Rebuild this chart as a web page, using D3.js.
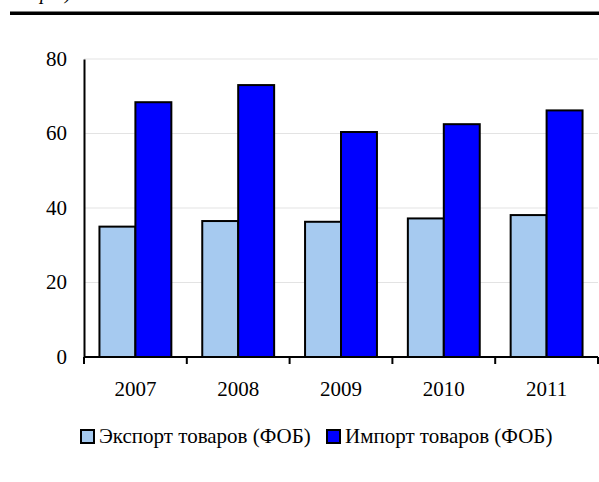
<!DOCTYPE html>
<html>
<head>
<meta charset="utf-8">
<script src="https://cdn.jsdelivr.net/npm/d3@7"></script>
<style>
  body { margin: 0; background: #fff; }
  svg { display: block; font-family: "Liberation Serif", "Times New Roman", serif; }
</style>
</head>
<body>
<svg id="chart" width="599" height="482"></svg>
<script>
// data
var years = ["2007", "2008", "2009", "2010", "2011"];
var exportVals = [35.0, 36.5, 36.3, 37.2, 38.1];
var importVals = [68.4, 73.0, 60.4, 62.5, 66.2];
var seriesNames = ["Экспорт товаров (ФОБ)", "Импорт товаров (ФОБ)"];
var yTicks = [0, 20, 40, 60, 80];

var colors = ["#a6caf0", "#0000ff"];
var fs = 21;

var svg = d3.select("#chart");
var plotL = 84, plotR = 598, plotT = 59, plotB = 357;

// caption cut by the top edge (only descenders show) + rule
svg.append("text")
	.attr("x", 40).attr("y", -1)
	.attr("font-style", "italic").attr("font-size", 20)
	.text("р");
svg.append("text")
	.attr("x", 65).attr("y", -1)
	.attr("font-style", "italic").attr("font-size", 20)
	.text(")");
svg.append("rect")
	.attr("x", 10).attr("y", 11.5).attr("width", 589).attr("height", 3.5)
	.attr("fill", "#000");

var x = d3.scaleBand().domain(years).range([plotL, plotR]);
var x1 = d3.scaleBand().domain([0, 1]).range([0, x.bandwidth()]).paddingOuter(0.43);
var y = d3.scaleLinear().domain([0, 80]).range([plotB, plotT]);

// gridlines
svg.append("g")
	.selectAll("line")
	.data(yTicks.filter(d => d > 0))
	.join("line")
	.attr("x1", plotL).attr("x2", plotR)
	.attr("y1", d => y(d)).attr("y2", d => y(d))
	.attr("stroke", "#e3e3e3").attr("stroke-width", 1);

// bars
var rows = years.map((yr, i) => ({year: yr, vals: [exportVals[i], importVals[i]]}));
var groups = svg.append("g").selectAll("g")
	.data(rows)
	.join("g")
	.attr("transform", d => "translate(" + x(d.year) + ",0)");
groups.selectAll("rect")
	.data(d => d.vals.map((v, k) => ({k: k, v: v})))
	.join("rect")
	.attr("x", d => x1(d.k))
	.attr("width", x1.bandwidth())
	.attr("y", d => y(d.v))
	.attr("height", d => y(0) - y(d.v))
	.attr("fill", d => colors[d.k])
	.attr("stroke", "#000").attr("stroke-width", 2);

// y axis
var yAxis = svg.append("g")
	.attr("transform", "translate(" + plotL + ",0)")
	.call(d3.axisLeft(y).tickValues(yTicks).tickSize(0).tickPadding(17));
yAxis.select(".domain").attr("stroke", "#000").attr("stroke-width", 2);
yAxis.selectAll("text").attr("font-size", fs).attr("fill", "#000")
	.attr("font-family", "Liberation Serif").attr("dy", "0.3em");

// x axis
var xAxis = svg.append("g")
	.attr("transform", "translate(0," + plotB + ")");
xAxis.append("line")
	.attr("x1", plotL).attr("x2", plotR).attr("y1", 0).attr("y2", 0)
	.attr("stroke", "#000").attr("stroke-width", 2);
xAxis.selectAll("line.tk")
	.data(years.map(d => x(d)).concat([plotR]))
	.join("line").attr("class", "tk")
	.attr("x1", d => d).attr("x2", d => d)
	.attr("y1", 0).attr("y2", 7)
	.attr("stroke", "#000").attr("stroke-width", 2);
xAxis.selectAll("text")
	.data(years)
	.join("text")
	.attr("x", d => x(d) + x.bandwidth() / 2)
	.attr("y", 39)
	.attr("text-anchor", "middle")
	.attr("font-size", fs)
	.text(d => d);

// legend
var legX = [80, 326];
var leg = svg.append("g").selectAll("g")
	.data(seriesNames)
	.join("g")
	.attr("transform", (d, i) => "translate(" + legX[i] + ",429)");
leg.append("rect")
	.attr("x", 1).attr("y", 1).attr("width", 13).attr("height", 13)
	.attr("fill", (d, i) => colors[i])
	.attr("stroke", "#000").attr("stroke-width", 2);
leg.append("text")
	.attr("x", 19).attr("y", 14)
	.attr("font-size", fs)
	.text(d => d);
</script>
</body>
</html>
